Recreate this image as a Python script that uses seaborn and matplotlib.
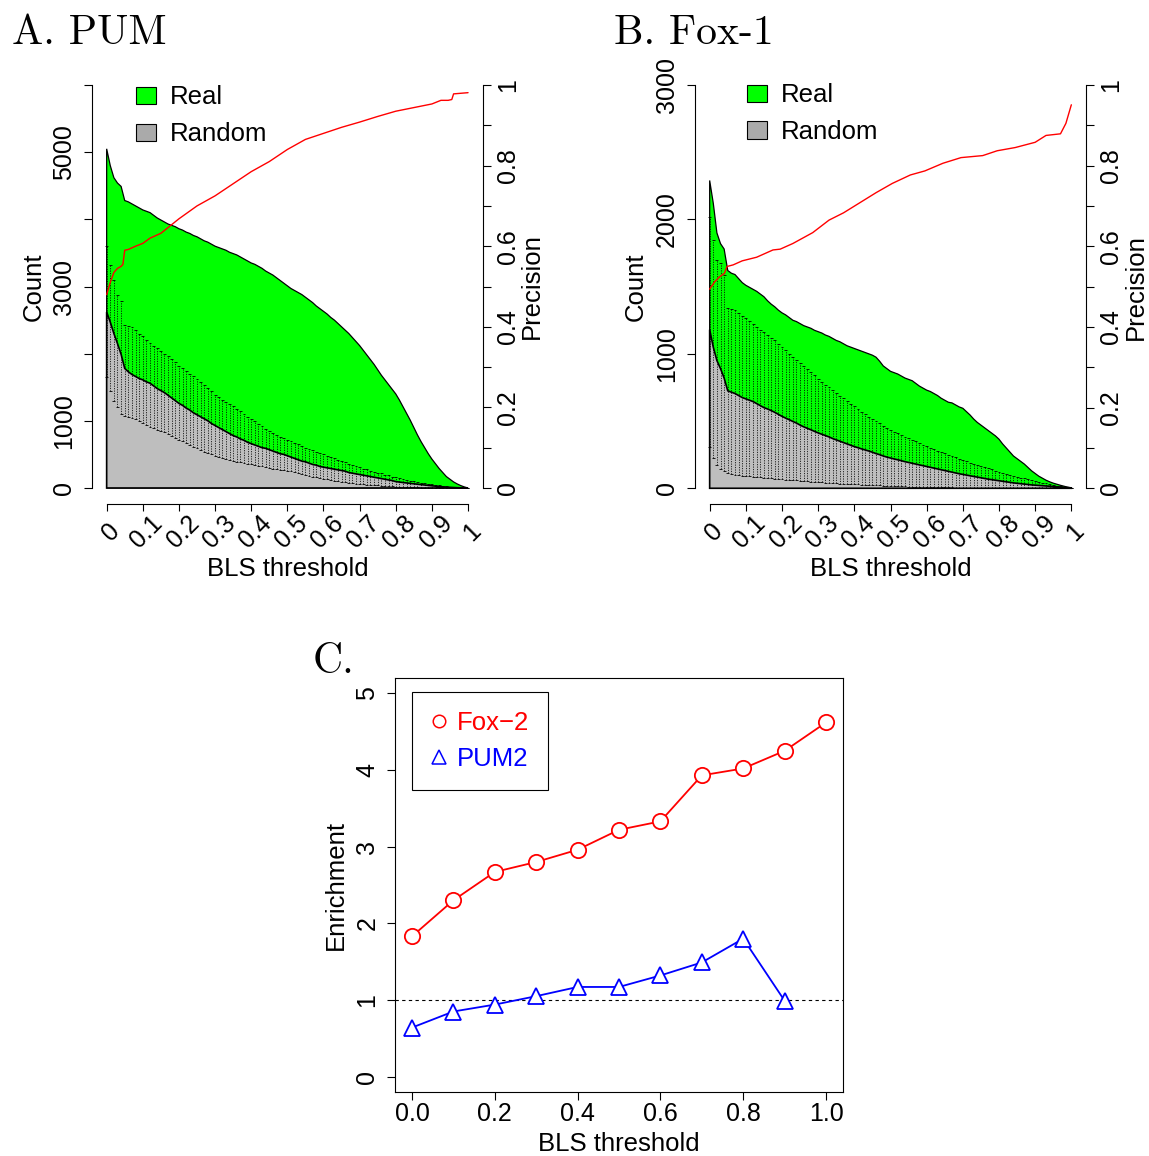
import numpy as np
import pandas as pd
import matplotlib
matplotlib.use("Agg")
import matplotlib.pyplot as plt
import seaborn as sns
from matplotlib.patches import Patch
from matplotlib.lines import Line2D
from matplotlib.transforms import ScaledTranslation

# ---------------- data ----------------
# BLS threshold grid (0, 0.01, ..., 1)
thr = np.round(np.arange(101) * 0.01, 2)

pum_real = [5050, 4800, 4620, 4540, 4490, 4280, 4260, 4230, 4200, 4170,
            4140, 4120, 4100, 4060, 4020, 3990, 3960, 3930, 3910, 3890,
            3860, 3840, 3810, 3790, 3760, 3740, 3710, 3680, 3660, 3630,
            3600, 3580, 3560, 3540, 3510, 3490, 3470, 3440, 3410, 3380,
            3350, 3330, 3300, 3270, 3230, 3200, 3170, 3130, 3090, 3050,
            3010, 2970, 2940, 2910, 2880, 2840, 2800, 2760, 2710, 2670,
            2630, 2590, 2540, 2500, 2450, 2400, 2350, 2300, 2240, 2180,
            2120, 2050, 1980, 1910, 1840, 1760, 1680, 1610, 1540, 1470,
            1400, 1310, 1210, 1110, 1010, 900, 790, 690, 600, 510,
            430, 360, 290, 230, 170, 130, 90, 60, 35, 15,
            0]
pum_rand_mean = [2620, 2470, 2300, 2150, 1990, 1780, 1730, 1690, 1660, 1630,
                 1610, 1580, 1560, 1520, 1480, 1450, 1420, 1380, 1340, 1300,
                 1260, 1230, 1190, 1160, 1120, 1090, 1060, 1030, 1000, 960,
                 930, 900, 870, 840, 810, 780, 760, 730, 710, 680,
                 660, 640, 620, 600, 590, 570, 550, 530, 510, 500,
                 480, 460, 440, 420, 400, 390, 370, 350, 340, 320,
                 310, 300, 290, 280, 270, 260, 250, 230, 220, 210,
                 200, 190, 180, 170, 160, 150, 140, 130, 120, 110,
                 95, 88, 81, 75, 68, 62, 56, 50, 44, 38,
                 32, 27, 22, 17, 13, 10, 7, 4, 2, 1,
                 0]
pum_rand_hi = [3610, 3320, 3100, 2870, 2780, 2430, 2410, 2390, 2350, 2300,
               2260, 2210, 2160, 2120, 2080, 2040, 2000, 1960, 1920, 1880,
               1820, 1780, 1740, 1700, 1660, 1620, 1580, 1540, 1490, 1440,
               1390, 1350, 1310, 1280, 1250, 1220, 1180, 1140, 1100, 1060,
               1020, 990, 950, 920, 880, 850, 820, 790, 760, 740,
               720, 700, 670, 650, 630, 600, 580, 560, 540, 520,
               500, 480, 460, 440, 420, 400, 380, 360, 340, 320,
               310, 290, 280, 260, 240, 230, 220, 200, 190, 170,
               160, 150, 140, 120, 110, 100, 90, 80, 70, 60,
               55, 50, 40, 35, 30, 20, 15, 10, 6, 3,
               0]
pum_rand_lo = [1650, 1450, 1300, 1200, 1100, 1070, 1050, 1035, 1020, 990,
               970, 940, 910, 890, 870, 850, 830, 800, 780, 750,
               720, 700, 670, 640, 610, 590, 560, 540, 520, 500,
               480, 465, 450, 430, 415, 400, 390, 380, 370, 360,
               350, 340, 330, 320, 310, 300, 290, 280, 275, 268,
               260, 250, 240, 225, 210, 200, 185, 170, 160, 150,
               140, 130, 120, 110, 100, 95, 90, 80, 70, 65,
               60, 55, 50, 45, 40, 38, 35, 30, 28, 25,
               22, 20, 18, 15, 12, 10, 8, 6, 5, 4,
               3, 2, 2, 1, 1, 0, 0, 0, 0, 0,
               0]
pum_prec_x = [0, 0.01, 0.02, 0.03, 0.04, 0.045, 0.05, 0.06, 0.08, 0.10,
              0.12, 0.15, 0.175, 0.20, 0.25, 0.30, 0.35, 0.40, 0.45, 0.50,
              0.55, 0.60, 0.65, 0.70, 0.75, 0.80, 0.85, 0.90, 0.925, 0.945,
              0.955, 0.96, 1.0]
pum_prec = [0.48, 0.51, 0.535, 0.545, 0.55, 0.555, 0.59, 0.592, 0.60, 0.607,
            0.62, 0.632, 0.65, 0.668, 0.70, 0.725, 0.755, 0.785, 0.81, 0.84,
            0.865, 0.88, 0.895, 0.908, 0.922, 0.935, 0.944, 0.953, 0.962, 0.962,
            0.964, 0.978, 0.981]

fox_real = [2290, 2120, 1900, 1820, 1780, 1620, 1600, 1590, 1560, 1530,
            1510, 1495, 1480, 1465, 1445, 1425, 1395, 1370, 1350, 1325,
            1305, 1290, 1270, 1250, 1240, 1225, 1210, 1200, 1190, 1175,
            1165, 1155, 1140, 1130, 1115, 1100, 1090, 1075, 1060, 1050,
            1040, 1030, 1020, 1010, 1000, 990, 975, 945, 910, 890,
            870, 860, 850, 835, 820, 810, 800, 780, 760, 745,
            730, 720, 705, 690, 670, 655, 640, 635, 620, 605,
            595, 570, 545, 515, 490, 470, 450, 430, 410, 390,
            365, 330, 300, 270, 240, 220, 200, 180, 155, 130,
            110, 90, 75, 60, 48, 38, 30, 22, 15, 8,
            3]
fox_rand_mean = [1180, 1050, 950, 890, 820, 725, 715, 705, 690, 675,
                 665, 655, 645, 630, 615, 600, 590, 578, 565, 550,
                 535, 522, 510, 497, 485, 470, 457, 446, 435, 423,
                 412, 402, 392, 382, 370, 360, 350, 340, 330, 320,
                 310, 302, 293, 285, 277, 268, 258, 250, 240, 232,
                 225, 218, 212, 205, 198, 192, 186, 180, 174, 168,
                 162, 156, 150, 144, 138, 132, 126, 120, 114, 108,
                 103, 98, 93, 88, 83, 78, 73, 68, 64, 60,
                 56, 52, 48, 44, 40, 37, 34, 31, 28, 25,
                 23, 21, 19, 17, 15, 13, 11, 9, 7, 5,
                 3]
fox_rand_hi = [2020, 1850, 1700, 1675, 1590, 1340, 1335, 1325, 1305, 1285,
               1265, 1245, 1225, 1200, 1180, 1160, 1140, 1120, 1100, 1075,
               1050, 1025, 1000, 980, 955, 935, 910, 890, 865, 840,
               815, 790, 770, 750, 730, 710, 690, 670, 650, 630,
               610, 590, 570, 550, 530, 515, 498, 482, 465, 450,
               435, 422, 410, 397, 385, 373, 360, 348, 336, 325,
               314, 303, 292, 281, 270, 260, 250, 240, 230, 220,
               210, 200, 191, 182, 173, 164, 156, 148, 140, 132,
               124, 116, 109, 102, 95, 87, 80, 73, 66, 60,
               54, 48, 42, 36, 30, 25, 20, 15, 11, 7,
               3]
fox_rand_lo = [310, 225, 175, 145, 125, 110, 105, 100, 97, 94,
               91, 89, 87, 84, 82, 80, 77, 75, 72, 70,
               67, 64, 62, 60, 58, 56, 54, 52, 50, 47,
               45, 43, 41, 40, 38, 37, 35, 34, 33, 31,
               30, 29, 27, 26, 25, 24, 22, 21, 20, 19,
               18, 17, 16, 15, 14, 13, 12, 12, 11, 10,
               10, 9, 8, 8, 7, 7, 6, 6, 5, 5,
               4, 4, 4, 3, 3, 3, 2, 2, 2, 2,
               1, 1, 1, 1, 1, 0, 0, 0, 0, 0,
               0, 0, 0, 0, 0, 0, 0, 0, 0, 0,
               0]
fox_prec_x = [0, 0.014, 0.028, 0.041, 0.048, 0.065, 0.09, 0.13, 0.175, 0.195,
              0.23, 0.285, 0.33, 0.37, 0.415, 0.46, 0.505, 0.555, 0.595, 0.645,
              0.695, 0.755, 0.795, 0.845, 0.9, 0.93, 0.97, 0.985, 1.0]
fox_prec = [0.494, 0.512, 0.525, 0.533, 0.55, 0.554, 0.564, 0.573, 0.591, 0.593,
            0.607, 0.634, 0.665, 0.683, 0.708, 0.733, 0.756, 0.777, 0.787, 0.806,
            0.82, 0.825, 0.837, 0.845, 0.858, 0.875, 0.879, 0.905, 0.951]

# Panel C
c_thr = [0.0, 0.1, 0.2, 0.3, 0.4, 0.5, 0.6, 0.7, 0.8, 0.9, 1.0]
fox2_enrich = [1.83, 2.30, 2.67, 2.80, 2.96, 3.22, 3.33, 3.93, 4.02, 4.25, 4.62]
pum2_thr = [0.0, 0.1, 0.2, 0.3, 0.4, 0.5, 0.6, 0.7, 0.8, 0.9]
pum2_enrich = [0.64, 0.85, 0.94, 1.05, 1.17, 1.17, 1.32, 1.49, 1.80, 0.99]

xtick_vals = [0.0, 0.1, 0.2, 0.3, 0.4, 0.5, 0.6, 0.7, 0.8, 0.9, 1.0]
xtick_labels = ["0", "0.1", "0.2", "0.3", "0.4", "0.5", "0.6", "0.7", "0.8", "0.9", "1"]
prec_tick_labels = ["0", "", "0.2", "", "0.4", "", "0.6", "", "0.8", "", "1"]

# ---------------- style ----------------
sns.set_style("ticks", rc={"axes.edgecolor": "black", "xtick.color": "black",
                           "ytick.color": "black", "text.color": "black",
                           "axes.labelcolor": "black", "axes.grid": False})
plt.rcParams["font.family"] = ["Liberation Sans", "DejaVu Sans"]
plt.rcParams["axes.linewidth"] = 0.8

FS = 18.5     # labels / legends
FT = 18.0     # tick labels
W, H = 1149, 1156
fig = plt.figure(figsize=(W / 100, H / 100), dpi=100)


def rect(l, r, t, b):
    return [l / W, 1 - b / H, (r - l) / W, (b - t) / H]


GREEN = "#00FF00"
GRAY = "#BEBEBE"


def count_panel(rpx, real, mean, hi, lo, px, pv, ymax, ystep, ylabels, leg_anchor):
    ax = fig.add_axes(rpx)
    pad = 0.04 * ymax
    ax.set_xlim(-0.04, 1.04)
    ax.set_ylim(-pad, ymax + pad)
    x = thr
    real = np.asarray(real, float)
    mean = np.asarray(mean, float)
    hi = np.asarray(hi, float)
    lo = np.asarray(lo, float)
    ax.fill(np.r_[0, x, 1], np.r_[0, real, 0], fc=GREEN, ec="black", lw=0.9, zorder=1)
    ax.fill(np.r_[0, x, 1], np.r_[0, mean, 0], fc=GRAY, ec="black", lw=1.2, zorder=2)
    ax.vlines(x, lo, hi, colors="black", linestyles=(0, (1.6, 1.6)), lw=0.55, zorder=3)
    ax.hlines(hi, x - 0.004, x + 0.004, colors="black", lw=0.6, zorder=3, clip_on=False)
    ax.hlines(lo, x - 0.004, x + 0.004, colors="black", lw=0.6, zorder=3, clip_on=False)

    for s in ("top", "right"):
        ax.spines[s].set_visible(False)
    ax.spines["left"].set_bounds(0, ymax)
    ax.spines["bottom"].set_bounds(0, 1)
    yt = np.arange(0, ymax + 1, ystep)
    ax.set_yticks(yt)
    ax.set_yticklabels(ylabels)
    ax.tick_params(axis="y", direction="out", length=5.5, width=0.8, labelsize=FT,
                   labelrotation=90, pad=6)
    for lbl in ax.get_yticklabels():
        lbl.set_va("center")
    ax.set_xticks(xtick_vals)
    ax.set_xticklabels(xtick_labels, rotation=45, ha="center", va="center",
                       rotation_mode="anchor")
    ax.tick_params(axis="x", direction="out", length=5, width=0.8, labelsize=FT, pad=15)
    off = ScaledTranslation(4 / 100, 0, fig.dpi_scale_trans)
    for lbl in ax.get_xticklabels():
        lbl.set_transform(lbl.get_transform() + off)
    ax.set_xlabel("BLS threshold", fontsize=FS, va="center")
    ax.xaxis.set_label_coords(0.5, -0.149)
    ax.set_ylabel("Count", fontsize=FS, va="center")
    ax.yaxis.set_label_coords(-0.151, 0.5)

    ax2 = ax.twinx()
    sns.lineplot(x=px, y=pv, ax=ax2, color="red", lw=1.0, sort=False, estimator=None)
    ax2.set_ylim(-0.04, 1.04)
    for s in ("top", "left", "bottom"):
        ax2.spines[s].set_visible(False)
    ax2.spines["right"].set_bounds(0, 1)
    ax2.set_yticks(xtick_vals)
    ax2.set_yticklabels(prec_tick_labels)
    ax2.tick_params(axis="y", direction="out", length=5.5, width=0.8, labelsize=FT,
                    labelrotation=90, pad=4)
    for lbl in ax2.get_yticklabels():
        lbl.set_va("center")
    ax2.set_ylabel("Precision", fontsize=FS, va="center")
    ax2.yaxis.set_label_coords(1.127, 0.5)

    handles = [Patch(fc=GREEN, ec="black", lw=0.8, label="Real"),
               Patch(fc="#AAAAAA", ec="black", lw=0.8, label="Random")]
    ax2.legend(handles=handles, loc="upper left", bbox_to_anchor=leg_anchor,
               frameon=False, fontsize=FS, handlelength=0.78, handleheight=0.66,
               handletextpad=0.55, labelspacing=0.5, borderaxespad=0, borderpad=0)
    return ax, ax2


count_panel(rect(92.2, 482.5, 68.9, 504.1), pum_real, pum_rand_mean, pum_rand_hi,
            pum_rand_lo, pum_prec_x, pum_prec, 6000, 1000,
            ["0", "1000", "", "3000", "", "5000", ""], (0.112, 0.962))
count_panel(rect(695.2, 1085.8, 68.9, 504.4), fox_real, fox_rand_mean, fox_rand_hi,
            fox_rand_lo, fox_prec_x, fox_prec, 3000, 1000,
            ["0", "1000", "2000", "3000"], (0.132, 0.967))

fig.text(12 / W, 1 - 33 / H, "A. PUM", fontsize=30, family=["cmr10"], va="center", ha="left")
fig.text(614 / W, 1 - 33 / H, "B. Fox-1", fontsize=30, family=["cmr10"], va="center", ha="left")
fig.text(313 / W, 1 - 662 / H, "C.", fontsize=30, family=["cmr10"], va="center", ha="left")

# ---------------- panel C ----------------
axc = fig.add_axes(rect(395.4, 842.6, 678, 1092))
axc.axhline(1, color="black", ls=(0, (3, 3)), lw=0.8, zorder=1)
sns.lineplot(x=c_thr, y=fox2_enrich, ax=axc, color="red", lw=1.3, marker="o",
             markersize=11, markerfacecolor="white", markeredgecolor="red",
             markeredgewidth=1.3, sort=False, estimator=None, zorder=3)
sns.lineplot(x=pum2_thr, y=pum2_enrich, ax=axc, color="blue", lw=1.3, marker="^",
             markersize=12, markerfacecolor="white", markeredgecolor="blue",
             markeredgewidth=1.3, sort=False, estimator=None, zorder=3)
axc.set_xlim(-0.04, 1.04)
axc.set_ylim(-0.2, 5.2)
axc.set_xticks([0.0, 0.2, 0.4, 0.6, 0.8, 1.0])
axc.set_xticklabels(["0.0", "0.2", "0.4", "0.6", "0.8", "1.0"])
axc.set_yticks([0, 1, 2, 3, 4, 5])
axc.set_yticklabels(["0", "1", "2", "3", "4", "5"])
axc.tick_params(axis="both", direction="out", length=5.5, width=0.8, labelsize=FT)
axc.tick_params(axis="x", pad=2)
axc.tick_params(axis="y", labelrotation=90, pad=6)
for lbl in axc.get_yticklabels():
    lbl.set_va("center")
for s in axc.spines.values():
    s.set_visible(True)
    s.set_linewidth(0.8)
axc.set_xlabel("BLS threshold", fontsize=FS, va="center")
axc.xaxis.set_label_coords(0.5, -0.125)
axc.set_ylabel("Enrichment", fontsize=FS, va="center")
axc.yaxis.set_label_coords(-0.133, 0.5)

hc = [Line2D([], [], ls="none", marker="o", ms=9, mfc="white", mec="red", mew=1.1,
             label="Fox\u22122"),
      Line2D([], [], ls="none", marker="^", ms=10, mfc="white", mec="blue", mew=1.1,
             label="PUM2")]
legc = axc.legend(handles=hc, loc="upper left", bbox_to_anchor=(0.037, 0.966),
                  borderaxespad=0, fontsize=FS, frameon=True, fancybox=False,
                  edgecolor="black", framealpha=1, handlelength=0.6,
                  handletextpad=0.4, borderpad=0.75, labelspacing=0.45,
                  labelcolor=["red", "blue"])
legc.get_frame().set_linewidth(0.8)

fig.savefig("out.png", dpi=100, facecolor="white")
